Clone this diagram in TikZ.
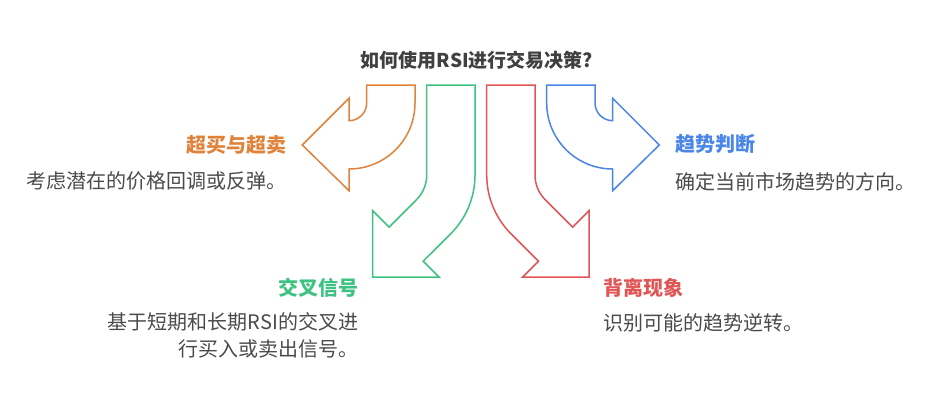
\documentclass[tikz,border=0pt]{standalone}
\usepackage{fontspec}
\setmainfont{Noto Sans CJK SC}
\definecolor{corange}{HTML}{E0823A}
\definecolor{cgreen}{HTML}{3EC282}
\definecolor{cred}{HTML}{E05656}
\definecolor{cblue}{HTML}{4A86E8}
\definecolor{ctext}{HTML}{4A4A4A}
\definecolor{ctitle}{HTML}{404040}
\tikzset{
  arrowshape/.style={line width=1.5pt, line join=miter, fill=white},
  head/.style={inner sep=0pt, font=\fontsize{20}{24}\selectfont\bfseries},
  desc/.style={inner sep=0pt, text=ctext, font=\fontsize{20}{26.7}\selectfont},
  titlestyle/.style={inner sep=0pt, text=ctitle, font=\fontsize{19}{24}\selectfont\bfseries}
}
\begin{document}
\begin{tikzpicture}[x=1pt,y=1pt]
\useasboundingbox (0,0) rectangle (950,-410);
% orange arrow
\draw[arrowshape, draw=corange] (366.7,-85) -- (415,-85) -- (415,-103)
  arc[start angle=0,end angle=-90,radius=66] -- (349,-190.7) -- (302.3,-145)
  -- (349,-98.3) -- (349,-120.7) arc[start angle=-90,end angle=0,radius=17.7] -- cycle;
% blue arrow
\draw[arrowshape, draw=cblue] (595,-85) -- (546.7,-85) -- (546.7,-103)
  arc[start angle=180,end angle=270,radius=66] -- (612.7,-190.7) -- (659.3,-145)
  -- (612.7,-98.3) -- (612.7,-120.7) arc[start angle=270,end angle=180,radius=17.7] -- cycle;
% green arrow
\draw[arrowshape, draw=cgreen] (426.7,-85) -- (475,-85) -- (475,-175)
  arc[start angle=0,end angle=-45,radius=83.3] -- (423.2,-261.2) -- (439,-277)
  -- (372.7,-277) -- (372.7,-210.7) -- (389.1,-227.1) -- (416.45,-199.75)
  arc[start angle=-45,end angle=0,radius=35] -- cycle;
% red arrow
\draw[arrowshape, draw=cred] (535,-85) -- (486.7,-85) -- (486.7,-175)
  arc[start angle=180,end angle=225,radius=83.3] -- (538.5,-261.2) -- (522.7,-277)
  -- (589,-277) -- (589,-210.7) -- (572.6,-227.1) -- (545.25,-199.75)
  arc[start angle=225,end angle=180,radius=35] -- cycle;
% title
\node[titlestyle] (title) at (477,-60) {如何使用RSI进行交易决策?};
% orange
\node[head, text=corange, anchor=east] (h1) at (287,-145) {超买与超卖};
\node[desc, anchor=east] (d1) at (287,-181) {考虑潜在的价格回调或反弹。};
% blue
\node[head, text=cblue, anchor=west] (h2) at (675,-144) {趋势判断};
\node[desc, anchor=west] (d2) at (675,-182) {确定当前市场趋势的方向。};
% green
\node[head, text=cgreen, anchor=east] (h3) at (358.3,-288) {交叉信号};
\node[desc, anchor=east, align=right] (d3) at (358.3,-335) {基于短期和长期RSI的交叉进\\行买入或卖出信号。};
% red
\node[head, text=cred, anchor=west] (h4) at (603.3,-288) {背离现象};
\node[desc, anchor=west] (d4) at (603.3,-323) {识别可能的趋势逆转。};
\end{tikzpicture}
\end{document}
